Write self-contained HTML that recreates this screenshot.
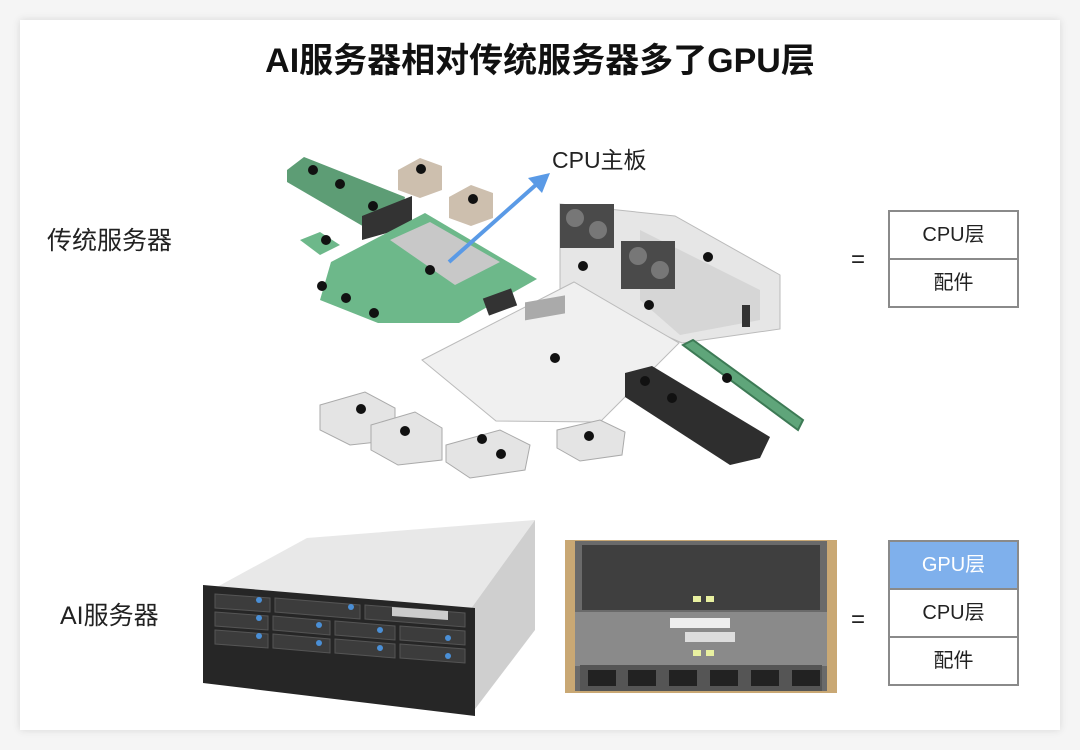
<!DOCTYPE html>
<html><head><meta charset="utf-8"><style>
html,body{margin:0;padding:0;width:1080px;height:750px;background:#f5f5f5;overflow:hidden;font-family:"Liberation Sans","Noto Sans CJK SC",sans-serif}
.card{position:absolute;left:20px;top:20px;width:1040px;height:710px;background:#fff;box-shadow:0 0 8px rgba(0,0,0,0.12)}
.t{position:absolute;white-space:nowrap;color:#222}
.box{position:absolute;left:888px;width:127px;border:2px solid #8a8a8a;background:#fff}
.box div{height:46px;line-height:46px;text-align:center;font-size:20px;color:#222;border-top:2px solid #8a8a8a}
.box div:first-child{border-top:none}
</style></head><body>
<div class="card"></div>
<div class="t" style="left:0;width:1080px;text-align:center;top:33px;font-size:34px;font-weight:bold;color:#111">AI服务器相对传统服务器多了GPU层</div>
<div class="t" style="left:552px;top:141px;font-size:23px">CPU主板</div>
<div class="t" style="left:47px;top:221px;font-size:25px">传统服务器</div>
<div class="t" style="left:60px;top:596px;font-size:25px">AI服务器</div>
<div class="t" style="left:851px;top:246px;font-size:24px">=</div>
<div class="t" style="left:851px;top:606px;font-size:24px">=</div>
<div class="box" style="top:210px"><div>CPU层</div><div>配件</div></div>
<div class="box" style="top:540px"><div style="background:#7fb0ec;color:#fff">GPU层</div><div>CPU层</div><div>配件</div></div>

<svg width="1080" height="750" style="position:absolute;left:0;top:0">
<polygon points="560,204 675,216 780,275 780,329 682,343 560,289" fill="#e6e6e6" stroke="#bbb"/>
<polygon points="640,230 760,290 760,320 680,335 640,300" fill="#d6d6d6"/>
<rect x="560" y="204" width="54" height="44" fill="#4a4a4a"/>
<rect x="621" y="241" width="54" height="48" fill="#4a4a4a"/>
<circle cx="575" cy="218" r="9" fill="#777"/><circle cx="598" cy="230" r="9" fill="#777"/>
<circle cx="638" cy="256" r="9" fill="#777"/><circle cx="660" cy="270" r="9" fill="#777"/>
<rect x="742" y="305" width="8" height="22" fill="#333"/>
<polygon points="422,360 574,282 679,343 600,422 496,421" fill="#f0f0f0" stroke="#bbb"/>
<rect x="525" y="395" width="40" height="18" fill="#aaa" transform="skewY(-10)"/>
<polygon points="625,373 652,366 770,437 760,458 730,465 625,397" fill="#2e2e2e"/>
<polygon points="683,345 693,340 803,420 798,430" fill="#5fa57a" stroke="#3d7a55" stroke-width="2"/>
<polygon points="287,170 304,157 405,197 398,228 366,228 287,182" fill="#5d9d75"/>
<polygon points="362,216 412,196 412,226 362,240" fill="#333"/>
<polygon points="331,262 425,213 537,279 459,323 378,323 320,300" fill="#6db88a"/>
<polygon points="390,240 430,222 500,262 455,285" fill="#c8c8c8"/>
<polygon points="300,240 320,232 340,245 320,255" fill="#6db88a"/>
<rect x="485" y="293" width="30" height="18" fill="#333" transform="rotate(-20 500 302)"/>
<polygon points="398,170 420,158 442,166 442,190 420,198 398,190" fill="#cdbfae"/>
<polygon points="449,197 471,185 493,193 493,218 471,226 449,218" fill="#cdbfae"/>
<polygon points="320,405 365,392 395,408 395,440 350,445 320,430" fill="#e4e4e4" stroke="#aaa"/>
<polygon points="371,425 415,412 442,428 442,460 398,465 371,450" fill="#e4e4e4" stroke="#aaa"/>
<polygon points="446,445 500,430 530,445 525,470 470,478 446,462" fill="#e4e4e4" stroke="#aaa"/>
<polygon points="557,430 600,420 625,432 622,455 580,461 557,448" fill="#e4e4e4" stroke="#aaa"/>
<g fill="#111">
<circle cx="313" cy="170" r="5"/><circle cx="340" cy="184" r="5"/><circle cx="373" cy="206" r="5"/>
<circle cx="421" cy="169" r="5"/><circle cx="473" cy="199" r="5"/><circle cx="326" cy="240" r="5"/>
<circle cx="430" cy="270" r="5"/><circle cx="322" cy="286" r="5"/><circle cx="346" cy="298" r="5"/>
<circle cx="374" cy="313" r="5"/><circle cx="583" cy="266" r="5"/><circle cx="649" cy="305" r="5"/>
<circle cx="555" cy="358" r="5"/><circle cx="708" cy="257" r="5"/><circle cx="645" cy="381" r="5"/>
<circle cx="672" cy="398" r="5"/><circle cx="727" cy="378" r="5"/><circle cx="361" cy="409" r="5"/>
<circle cx="405" cy="431" r="5"/><circle cx="482" cy="439" r="5"/><circle cx="501" cy="454" r="5"/>
<circle cx="589" cy="436" r="5"/>
</g>
<line x1="449" y1="262" x2="538" y2="183" stroke="#5a9ae6" stroke-width="4"/>
<polygon points="550,173 528,178 542,193" fill="#5a9ae6"/>

<polygon points="307,538 535,520 470,610 217,587" fill="#e8e8e8"/>
<polygon points="470,610 535,520 535,630 472,713" fill="#cfcfcf"/>
<polygon points="203,585 475,608 475,716 203,683" fill="#262626"/>
<g fill="#3c3c3c" stroke="#555">
<polygon points="215,594 270,598 270,612 215,608"/><polygon points="275,598 360,605 360,619 275,612"/><polygon points="365,605 465,613 465,627 365,619"/>
<polygon points="215,612 268,616 268,630 215,626"/><polygon points="273,616 330,621 330,635 273,630"/><polygon points="335,621 395,626 395,640 335,635"/><polygon points="400,626 465,631 465,645 400,640"/>
<polygon points="215,630 268,634 268,648 215,644"/><polygon points="273,634 330,639 330,653 273,648"/><polygon points="335,639 395,644 395,658 335,653"/><polygon points="400,644 465,649 465,663 400,658"/>
</g>
<polygon points="392,607 448,611 448,620 392,616" fill="#ccc"/>
<g fill="#4a8fd6"><circle cx="259" cy="618" r="3"/><circle cx="319" cy="625" r="3"/><circle cx="380" cy="630" r="3"/><circle cx="448" cy="638" r="3"/><circle cx="259" cy="636" r="3"/><circle cx="319" cy="643" r="3"/><circle cx="380" cy="648" r="3"/><circle cx="448" cy="656" r="3"/><circle cx="259" cy="600" r="3"/><circle cx="351" cy="607" r="3"/></g>

<rect x="565" y="540" width="272" height="153" fill="#c9a874"/>
<rect x="575" y="541" width="252" height="150" fill="#6a6a6a"/>
<rect x="582" y="545" width="238" height="65" fill="#3f3f3f"/>
<rect x="575" y="612" width="252" height="54" fill="#8a8a8a"/>
<rect x="580" y="665" width="242" height="26" fill="#555"/>
<g fill="#222"><rect x="588" y="670" width="28" height="16"/><rect x="628" y="670" width="28" height="16"/><rect x="669" y="670" width="28" height="16"/><rect x="710" y="670" width="28" height="16"/><rect x="751" y="670" width="28" height="16"/><rect x="792" y="670" width="28" height="16"/></g>
<rect x="670" y="618" width="60" height="10" fill="#eee"/><rect x="685" y="632" width="50" height="10" fill="#ddd"/>
<g fill="#e8f0a0"><rect x="693" y="596" width="8" height="6"/><rect x="706" y="596" width="8" height="6"/><rect x="693" y="650" width="8" height="6"/><rect x="706" y="650" width="8" height="6"/></g>
</svg>
</body></html>
